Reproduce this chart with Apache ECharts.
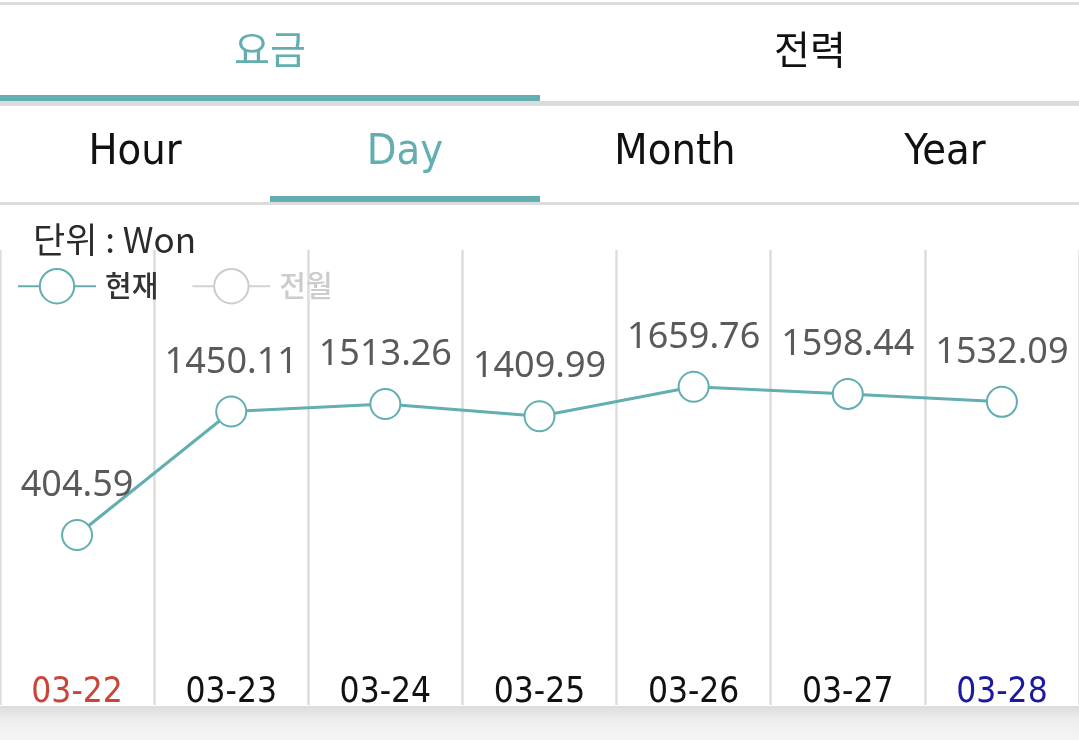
<!DOCTYPE html>
<html>
<head>
<meta charset="utf-8">
<script src="https://cdn.jsdelivr.net/npm/echarts@6/dist/echarts.min.js"></script>
<style>
  html, body { margin: 0; padding: 0; background: #fff; }
  #chart { width: 1079px; height: 740px; }
</style>
</head>
<body>
<div id="chart"></div>
<script>
var days = ['03-22', '03-23', '03-24', '03-25', '03-26', '03-27', '03-28'];
var current = [404.59, 1450.11, 1513.26, 1409.99, 1659.76, 1598.44, 1532.09];
var lastMonth = [];
var dayColors = ['#c8453b', '#111111', '#111111', '#111111', '#111111', '#111111', '#1a1a9e'];
var mainTabs = ['요금', '전력'];
var subTabs = ['Hour', 'Day', 'Month', 'Year'];

var teal = '#62aeb1';
var chart = echarts.init(document.getElementById('chart'));

var graphics = [
  { type: 'rect', shape: { x: 0, y: 2, width: 1079, height: 3 }, style: { fill: '#dddddd' } },
  { type: 'rect', shape: { x: 0, y: 101, width: 1079, height: 5 }, style: { fill: '#dcdcdc' } },
  { type: 'rect', shape: { x: 0, y: 95, width: 540, height: 6 }, style: { fill: teal } },
  { type: 'rect', shape: { x: 0, y: 202, width: 1079, height: 3 }, style: { fill: '#dcdcdc' } },
  { type: 'rect', shape: { x: 270, y: 196, width: 270, height: 6 }, style: { fill: teal } },
  {
    type: 'rect', shape: { x: 0, y: 706, width: 1079, height: 34 },
    style: { fill: new echarts.graphic.LinearGradient(0, 0, 0, 1, [
      { offset: 0, color: '#dcdcdc' }, { offset: 0.4, color: '#eeeeee' }, { offset: 1, color: '#f5f5f5' }
    ]) }
  }
];
mainTabs.forEach(function (t, i) {
  graphics.push({
    type: 'text', x: 270 + i * 540, y: 49,
    style: { text: t, fill: i === 0 ? teal : '#111', font: '39px "Noto Sans CJK KR"', align: 'center', verticalAlign: 'middle' }
  });
});
subTabs.forEach(function (t, i) {
  graphics.push({
    type: 'text', x: 135 + i * 270, y: 153,
    style: { text: t, fill: i === 1 ? teal : '#111', font: '43px "DejaVu Sans Condensed"', align: 'center', verticalAlign: 'middle' }
  });
});

var option = {
  animation: false,
  title: {
    text: '단위 : Won',
    left: 28, top: 217,
    textStyle: { fontFamily: 'Noto Sans CJK KR', fontSize: 35, fontWeight: 'normal', color: '#2b2b2b' }
  },
  legend: {
    data: ['현재', '전월'],
    selected: { '전월': false },
    left: 12, top: 263,
    itemWidth: 78, itemHeight: 43, itemGap: 33,
    inactiveColor: '#cccccc',
    textStyle: { fontFamily: 'Noto Sans CJK KR', fontSize: 29, color: '#333', fontWeight: 500, padding: [0, 0, 0, 4] }
  },
  graphic: graphics,
  grid: { left: 0, right: -2, top: 250, bottom: 35 },
  xAxis: {
    type: 'category',
    data: days,
    boundaryGap: true,
    axisLine: { show: false },
    axisTick: { show: false },
    splitLine: { show: true, lineStyle: { color: '#dcdcdc', width: 2.5 } },
    axisLabel: {
      inside: true,
      margin: -5,
      fontFamily: 'DejaVu Sans Condensed',
      fontSize: 35,
      color: function (value, index) { return dayColors[index]; }
    }
  },
  yAxis: {
    type: 'value',
    show: false,
    min: -1034,
    max: 2817,
    splitLine: { show: false }
  },
  series: [
    {
      name: '현재',
      type: 'line',
      data: current,
      symbol: 'emptyCircle',
      symbolSize: 30,
      color: teal,
      lineStyle: { color: teal, width: 3 },
      itemStyle: { color: teal, borderColor: teal, borderWidth: 4 },
      label: {
        show: true, position: 'top', distance: 15,
        fontFamily: 'Noto Sans', fontSize: 36, color: '#5a5a5a'
      }
    },
    {
      name: '전월',
      type: 'line',
      data: lastMonth,
      symbol: 'emptyCircle',
      symbolSize: 30,
      color: '#aaaaaa',
      lineStyle: { width: 3 }
    }
  ]
};
chart.setOption(option);
</script>
</body>
</html>
